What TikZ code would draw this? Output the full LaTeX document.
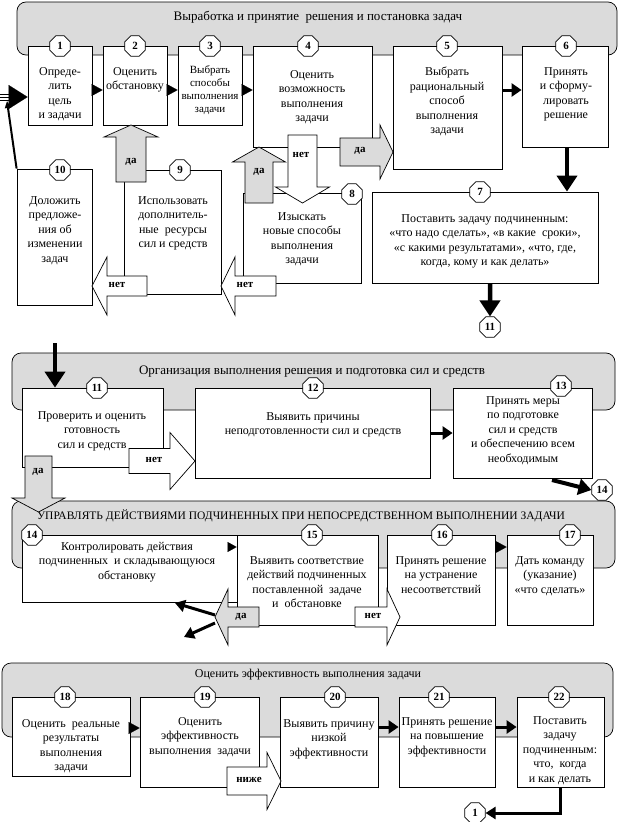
\documentclass[tikz,border=0pt]{standalone}
\usepackage{fontspec}
\setmainfont{Liberation Serif}
\usetikzlibrary{shapes.geometric,arrows.meta,fit}
\newcommand\HArr[7]{\draw[#7] (#1,{#4-#5}) -- (#2,{#4-#5}) -- (#2,{#4-#6}) -- (#3,#4) -- (#2,{#4+#6}) -- (#2,{#4+#5}) -- (#1,{#4+#5}) -- cycle;}
\newcommand\VArr[7]{\draw[#7] ({#4-#5},#1) -- ({#4-#5},#2) -- ({#4-#6},#2) -- (#4,#3) -- ({#4+#6},#2) -- ({#4+#5},#2) -- ({#4+#5},#1) -- cycle;}
\begin{document}
\begin{tikzpicture}[x=1pt,y=-1pt,
  band/.style={draw, fill=gray!28, rounded corners=9pt, line width=0.7pt},
  box/.style={draw, fill=white, inner sep=0pt, line width=0.8pt},
  num/.style={draw, fill=white, regular polygon, regular polygon sides=8, minimum size=22pt, inner sep=0pt, font=\bfseries\fontsize{11}{12}\selectfont, line width=0.8pt},
  txt/.style={align=center, anchor=north, inner sep=0pt, font=\fontsize{12}{14.5}\selectfont},
  stxt/.style={align=center, anchor=north, inner sep=0pt, font=\fontsize{11}{13.3}\selectfont},
  ttl/.style={inner sep=0pt, font=\fontsize{13}{14}\selectfont},
  lbl/.style={inner sep=0pt, font=\bfseries\fontsize{11}{12}\selectfont},
  garr/.style={draw, fill=gray!28, line width=0.7pt},
  warr/.style={draw, fill=white, line width=0.7pt},
  tri/.style={-{Triangle[length=11pt,width=12pt]}, line width=0.1pt, shorten >=0pt},
  thk/.style={-{Triangle[length=10pt,width=13pt]}, line width=3pt},
  thkk/.style={-{Triangle[length=16pt,width=20pt]}, line width=4.5pt},
]
\useasboundingbox (0,0) rectangle (620,822);
% ===== Section 1 =====
\draw[band] (17,2) rectangle (617,55);
\node[ttl] (s1) at (318,17) {Выработка и принятие\ \ решения и постановка задач};
\node[box, fit={(28,46) (92,125)}] (b1) {};
\node[box, fit={(103,46) (167,125)}] (b2) {};
\node[box, fit={(178,46) (242,125)}] (b3) {};
\node[box, fit={(253,46) (372,147)}] (b4) {};
\node[box, fit={(393,46) (502,169)}] (b5) {};
\node[box, fit={(522,46) (608,147)}] (b6) {};
\node[box, fit={(17,169) (92,305)}] (b10) {};
\node[box, fit={(124,170) (221,294)}] (b9) {};
\node[box, fit={(243,193) (361,283)}] (b8) {};
\node[box, fit={(372,192) (598,283)}] (b7) {};
\node[txt] (t1) at (60,67) {Опреде-\\лить\\цель\\и задачи};
\node[txt] (t2) at (135,67) {Оценить\\обстановку};
\node[stxt] (t3) at (210,65) {Выбрать\\способы\\выполнения\\задачи};
\node[txt] (t4) at (312,70) {Оценить\\возможность\\выполнения\\задачи};
\node[txt] (t5) at (447,67) {Выбрать\\рациональный\\способ\\выполнения\\задачи};
\node[txt] (t6) at (566,67) {Принять\\и сформу-\\лировать\\решение};
\node[txt] (t10) at (55,196) {Доложить\\предложе-\\ния об\\изменении\\задач};
\node[txt] (t9) at (173,196) {Использовать\\дополнитель-\\ные\ \ ресурсы\\сил и средств};
\node[txt] (t8) at (302,212) {Изыскать\\новые способы\\выполнения\\задачи};
\node[txt] (t7) at (485,214) {Поставить задачу подчиненным:\\«что надо сделать», «в какие\ \ сроки»,\\«с какими результатами», «что, где,\\когда, кому и как делать»};
\node[num] (o1) at (60,46) {1};
\node[num] (o2) at (135,46) {2};
\node[num] (o3) at (210,46) {3};
\node[num] (o4) at (308,46) {4};
\node[num] (o5) at (447,46) {5};
\node[num] (o6) at (566,46) {6};
\node[num] (o10) at (60,170) {10};
\node[num] (o9) at (180,170) {9};
\node[num] (o8) at (352,194) {8};
\node[num] (o7) at (480,192) {7};
% small arrows
\draw[tri] (b1.east |- 0,90) -- (b2.west |- 0,90);
\draw[tri] (b2.east |- 0,90) -- (b3.west |- 0,90);
\draw[tri] (b3.east |- 0,90) -- (b4.west |- 0,90);
\draw[thk] (b5.east |- 0,90) -- (b6.west |- 0,90);
\draw[thkk] (b6.south -| 567,0) -- (b7.north -| 567,0);
\node[num] (o11b) at (490,327) {11};
\draw[thkk] (b7.south -| 490,0) -- (o11b.north);
% block arrows
\HArr{340}{380}{393}{152}{14}{27}{garr}
\node[lbl] (l1) at (360,151) {да};
\VArr{135}{187}{203}{302.5}{14.5}{27}{warr}
\node[lbl] (l2) at (301,155) {нет};
\VArr{203}{162}{147}{259}{14}{26.5}{garr}
\node[lbl] (l3) at (259,172) {да};
\VArr{182}{137}{125}{131}{15}{27}{garr}
\node[lbl] (l4) at (131,162) {да};
\HArr{147}{107}{92}{286}{10}{29}{warr}
\node[lbl] (l5) at (117,285) {нет};
\HArr{276}{235}{221}{286}{10}{29}{warr}
\node[lbl] (l6) at (245,285) {нет};
% entry
\draw[line width=0.8pt] (0,94) -- (14,94) (0,97) -- (14,97) (0,100) -- (14,100);
\coordinate (entry) at (12,97);
\draw[-{Triangle[length=19pt,width=24pt]}, line width=0.1pt] (entry) -- (b1.west |- 0,97);
\draw[line width=2pt, -{Triangle[length=7pt,width=6pt]}] (b10.north west) -- (7,101);
% ===== Section 2 =====
\draw[band] (12,353) rectangle (615,410);
\node[ttl] (s2) at (312,372) {Организация выполнения решения и подготовка сил и средств};
\node[box, fit={(22,388) (163,467)}] (b11) {};
\node[box, fit={(195,388) (430,478)}] (b12) {};
\node[box, fit={(453,388) (592,478)}] (b13) {};
\node[txt] (t11) at (92,411) {Проверить и оценить\\готовность\\сил и средств};
\node[txt] (t12) at (313,412) {Выявить причины\\неподготовленности сил и средств};
\node[txt] (t13) at (523,396) {Принять меры\\по подготовке\\сил и средств\\и обеспечению всем\\необходимым};
\node[num] (o11) at (97,388) {11};
\node[num] (o12) at (313,388) {12};
\node[num] (o13) at (561,386) {13};
\node[num] (o14a) at (602,490) {14};
\draw[thkk] (55,343) -- (b11.north -| 55,0);
\draw[thk] (b12.east |- 0,433) -- (b13.west |- 0,433);
\draw[-{Triangle[length=13pt,width=16pt]}, line width=4pt] (552,480) -- (o14a.west);
\HArr{129}{170}{195}{461}{12.5}{28.5}{warr}
\node[lbl] (l7) at (154,460) {нет};
% ===== Section 3 =====
\draw[band] (12,501) rectangle (615,568);
\node[ttl, font=\fontsize{11.5}{14}\selectfont] (s3) at (301,516) {УПРАВЛЯТЬ ДЕЙСТВИЯМИ ПОДЧИНЕННЫХ ПРИ НЕПОСРЕДСТВЕННОМ ВЫПОЛНЕНИИ ЗАДАЧИ};
\VArr{456}{498}{512}{38.5}{13.5}{26.5}{garr}
\node[lbl] (l8) at (38,472) {да};
\node[box, fit={(22,535) (237,602)}] (b14) {};
\node[box, fit={(237,535) (378,625)}] (b15) {};
\node[box, fit={(387,535) (495,625)}] (b16) {};
\node[box, fit={(507,535) (593,625)}] (b17) {};
\node[txt] (t14) at (127,542) {Контролировать действия\\подчиненных\ \ и складывающуюся\\обстановку};
\node[txt] (t15) at (307,556) {Выявить соответствие\\действий подчиненных\\поставленной\ \ задаче\\и\ \ обстановке};
\node[txt] (t16) at (441,556) {Принять решение\\на устранение\\несоответствий};
\node[txt] (t17) at (550,556) {Дать команду\\(указание)\\«что сделать»};
\node[num] (o14) at (32,535) {14};
\node[num] (o15) at (312,535) {15};
\node[num] (o16) at (442,535) {16};
\node[num] (o17) at (570,535) {17};
\draw[-{Triangle[length=9pt,width=10pt]}, line width=0.1pt] (228,547) -- (b15.west |- 0,547);
\draw[tri] (b16.east |- 0,547) -- (b17.west |- 0,547);
\HArr{355}{387}{400}{617}{10}{28}{warr}
\node[lbl] (l9) at (373,616) {нет};
\HArr{259}{228}{215}{617}{10}{28}{garr}
\node[lbl] (l10) at (241,617) {да};
\coordinate (da15) at (215,617);
\draw[-{Triangle[length=10pt,width=12pt]}, line width=3pt] (da15) ++(0,-2) -- (175,603);
\draw[-{Triangle[length=10pt,width=12pt]}, line width=3pt] (da15) ++(0,6) -- (184,637);
% ===== Section 4 =====
\draw[band] (2,663) rectangle (613,737);
\node[ttl, font=\fontsize{12}{14}\selectfont] (s4) at (308,675) {Оценить эффективность выполнения задачи};
\node[box, fit={(12,697) (130,776)}] (b18) {};
\node[box, fit={(140,697) (259,787)}] (b19) {};
\node[box, fit={(280,697) (378,787)}] (b20) {};
\node[box, fit={(399,697) (495,787)}] (b21) {};
\node[box, fit={(517,697) (604,787)}] (b22) {};
\node[txt] (t18) at (71,719) {Оценить\ \ реальные\\результаты\\выполнения\\задачи};
\node[txt] (t19) at (200,717) {Оценить\\эффективность\\выполнения\ \ задачи};
\node[txt] (t20) at (329,719) {Выявить причину\\низкой\\эффективности};
\node[txt] (t21) at (447,717) {Принять решение\\на повышение\\эффективности};
\node[txt] (t22) at (560,716) {Поставить\\задачу\\подчиненным:\\что,\ \ когда\\и как делать};
\node[num] (o18) at (65,697) {18};
\node[num] (o19) at (205,697) {19};
\node[num] (o20) at (335,697) {20};
\node[num] (o21) at (439,697) {21};
\node[num] (o22) at (559,697) {22};
\node[num] (o1b) at (475,813) {1};
\draw[tri] (b18.east |- 0,728) -- (b19.west |- 0,728);
\draw[thk] (b20.east |- 0,727) -- (b21.west |- 0,727);
\draw[thk] (b21.east |- 0,727) -- (b22.west |- 0,727);
\HArr{227}{267}{281}{781}{14}{28.5}{warr}
\node[lbl] (l11) at (249,780) {ниже};
\draw[-{Triangle[length=10pt,width=12pt]}, line width=3pt] (b22.south -| 560,0) |- (o1b.east);
\end{tikzpicture}
\end{document}
